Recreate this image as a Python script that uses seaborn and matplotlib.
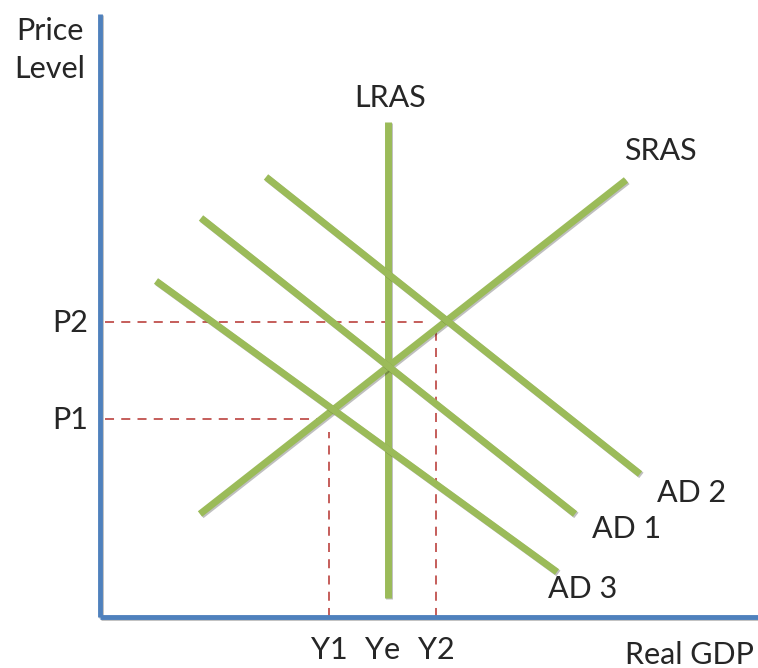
import pandas as pd
import matplotlib.pyplot as plt
import matplotlib.patheffects as pe
import seaborn as sns

# Curve end points (Real GDP, Price Level)
curves = ["LRAS", "SRAS", "AD 1", "AD 2", "AD 3"]
gdp_start = [28.8, 10.0, 10.1, 16.6, 5.6]
gdp_end = [28.8, 52.6, 47.5, 54.0, 45.7]
price_start = [49.5, 10.3, 39.9, 44.0, 33.6]
price_end = [1.9, 43.7, 10.3, 14.3, 4.5]

# Equilibrium guides
price_levels = ["P1", "P2"]
price_values = [19.8, 29.5]
price_guide_end = [21.7, 32.3]
output_levels = ["Y1", "Ye", "Y2"]
output_values = [22.9, 28.3, 33.6]
output_guide_top = [18.5, None, 28.7]

df = pd.DataFrame({
    "Curve": curves * 2,
    "Real GDP": gdp_start + gdp_end,
    "Price Level": price_start + price_end,
})

sns.set_style("white")
plt.rcParams["font.family"] = ["Lato", "DejaVu Sans"]

green = "#9BBB59"
blue = "#4F81BD"
red = "#C0504D"

fig = plt.figure(figsize=(7.58, 6.68), dpi=100)
ax = fig.add_axes([0, 0, 1, 1])
ax.set_xlim(-10, 65.8)
ax.set_ylim(-5.1, 61.7)
ax.axis("off")

shadow = [pe.SimpleLineShadow(offset=(1, -1), alpha=0.25), pe.Normal()]

sns.lineplot(data=df, x="Real GDP", y="Price Level", hue="Curve",
             palette=[green] * len(curves), linewidth=5, legend=False,
             ax=ax, zorder=3, sort=False, estimator=None)
for line in ax.lines:
    line.set_path_effects(shadow)
    line.set_solid_capstyle("butt")

# dashed guides
for p, end in zip(price_values, price_guide_end):
    ax.plot([0.5, end], [p, p], ls=(0, (5, 4)), color=red, lw=1.3, zorder=2)
for y, top in zip(output_values, output_guide_top):
    if top is not None:
        ax.plot([y, y], [0, top], ls=(0, (5, 4)), color=red, lw=1.3, zorder=2)

# axes
ax.plot([0, 0], [0, 60.3], color=blue, lw=3.5, zorder=4, solid_capstyle="butt",
        path_effects=shadow)
ax.plot([0, 65.8], [0, 0], color=blue, lw=3.5, zorder=4, solid_capstyle="butt",
        path_effects=shadow)

fs = 22
ax.text(-5, 58.6, "Price", fontsize=fs, ha="center", va="center")
ax.text(-5, 54.8, "Level", fontsize=fs, ha="center", va="center")
ax.text(29.0, 51.9, "LRAS", fontsize=fs, ha="center", va="center")
ax.text(56.0, 46.6, "SRAS", fontsize=fs, ha="center", va="center")
ax.text(59.2, 12.4, "AD 2", fontsize=fs, ha="center", va="center")
ax.text(52.7, 8.8, "AD 1", fontsize=fs, ha="center", va="center")
ax.text(48.3, 2.8, "AD 3", fontsize=fs, ha="center", va="center")
for lab, p in zip(price_levels, price_values):
    ax.text(-3.0, p - 0.1, lab, fontsize=fs, ha="center", va="center")
for lab, y in zip(output_levels, output_values):
    ax.text(y, -3.3, lab, fontsize=fs, ha="center", va="center")
ax.text(52.5, -3.8, "Real GDP", fontsize=fs, ha="left", va="center")

fig.savefig("out.png", dpi=100)
